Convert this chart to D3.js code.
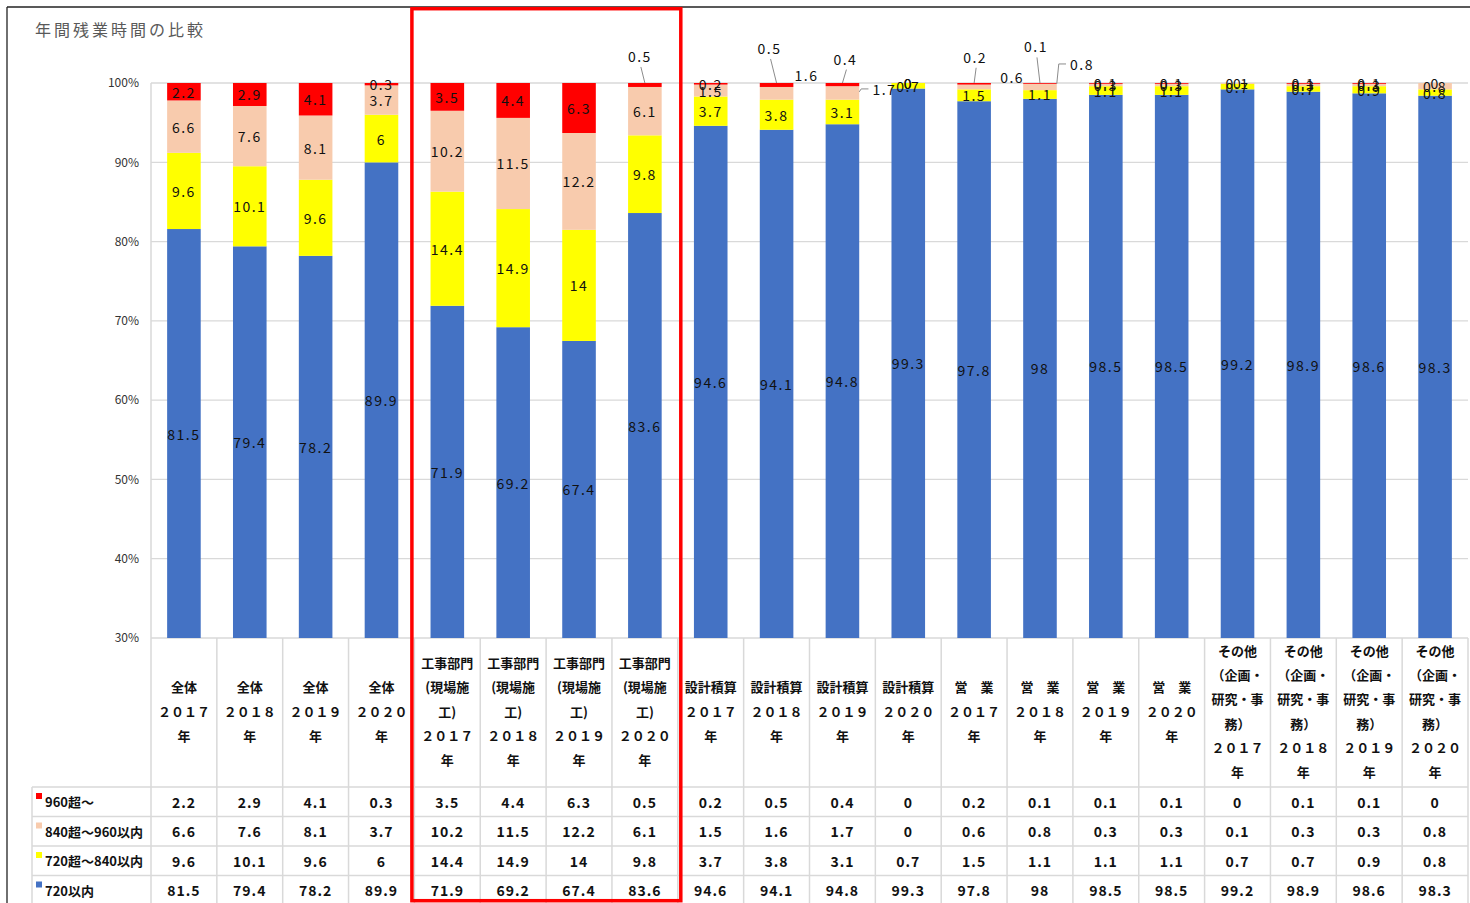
<!DOCTYPE html>
<html>
<head>
<meta charset="utf-8">
<script src="https://cdn.jsdelivr.net/npm/d3@7"></script>
<style>
body { margin: 0; background: #fff; }
text { font-family: "Noto Sans CJK JP", "Noto Sans", sans-serif; }
</style>
</head>
<body>
<svg id="chart" width="1470" height="903"></svg>
<script>
// category labels (line breaks as in the sheet)
var categories = [
    "全体\n２０１７\n年", "全体\n２０１８\n年", "全体\n２０１９\n年", "全体\n２０２０\n年",
    "工事部門\n(現場施\n工)\n２０１７\n年", "工事部門\n(現場施\n工)\n２０１８\n年",
    "工事部門\n(現場施\n工)\n２０１９\n年", "工事部門\n(現場施\n工)\n２０２０\n年",
    "設計積算\n２０１７\n年", "設計積算\n２０１８\n年", "設計積算\n２０１９\n年", "設計積算\n２０２０\n年",
    "営　業\n２０１７\n年", "営　業\n２０１８\n年", "営　業\n２０１９\n年", "営　業\n２０２０\n年",
    "その他\n（企画・\n研究・事\n務）\n２０１７\n年", "その他\n（企画・\n研究・事\n務）\n２０１８\n年",
    "その他\n（企画・\n研究・事\n務）\n２０１９\n年", "その他\n（企画・\n研究・事\n務）\n２０２０\n年"
];

var seriesNames = ["960超～", "840超～960以内", "720超～840以内", "720以内"];

var over960   = [2.2, 2.9, 4.1, 0.3, 3.5, 4.4, 6.3, 0.5, 0.2, 0.5, 0.4, 0, 0.2, 0.1, 0.1, 0.1, 0, 0.1, 0.1, 0];
var over840   = [6.6, 7.6, 8.1, 3.7, 10.2, 11.5, 12.2, 6.1, 1.5, 1.6, 1.7, 0, 0.6, 0.8, 0.3, 0.3, 0.1, 0.3, 0.3, 0.8];
var over720   = [9.6, 10.1, 9.6, 6, 14.4, 14.9, 14, 9.8, 3.7, 3.8, 3.1, 0.7, 1.5, 1.1, 1.1, 1.1, 0.7, 0.7, 0.9, 0.8];
var within720 = [81.5, 79.4, 78.2, 89.9, 71.9, 69.2, 67.4, 83.6, 94.6, 94.1, 94.8, 99.3, 97.8, 98, 98.5, 98.5, 99.2, 98.9, 98.6, 98.3];

var yTicks = [0.3, 0.4, 0.5, 0.6, 0.7, 0.8, 0.9, 1.0];

var seriesColors = ["#ff0000", "#f8cbad", "#ffff00", "#4472c4"];

// labels that were dragged off the thin segments in the sheet (pixel offsets)
var movedLabels = [
    {series: 0, index: 7,  dx: -5,  dy: -29, leader: "line"},
    {series: 0, index: 9,  dx: -7,  dy: -37, leader: "line"},
    {series: 1, index: 9,  dx: 30,  dy: -18, leader: "none"},
    {series: 0, index: 10, dx: 3,   dy: -26, leader: "line"},
    {series: 1, index: 10, dx: 42,  dy: -4,  leader: "elbow"},
    {series: 0, index: 12, dx: 1,   dy: -27, leader: "line"},
    {series: 1, index: 12, dx: 38,  dy: -10, leader: "none"},
    {series: 0, index: 13, dx: -4,  dy: -37, leader: "line"},
    {series: 1, index: 13, dx: 42,  dy: -23, leader: "elbow"}
];

var seriesValues = [over960, over840, over720, within720];

var svg = d3.select("#chart");

var plotLeft = 151, plotRight = 1468, plotTop = 83, plotBottom = 638;
var rowTops = [787, 816.5, 846, 875.5];
var rowH = 29.5;

var x = d3.scaleBand()
    .domain(d3.range(categories.length))
    .range([plotLeft, plotRight]);

var barW = x.bandwidth() * 0.51;

var y = d3.scaleLinear()
    .domain([0.3, 1])
    .range([plotBottom, plotTop]);

var rows = categories.map(function(c, i) {
    return {i: i, s0: over960[i], s1: over840[i], s2: over720[i], s3: within720[i]};
});

// bottom to top: 720以内, 720超, 840超, 960超
var layers = d3.stack()
    .keys(["s3", "s2", "s1", "s0"])
    .offset(d3.stackOffsetExpand)(rows);

// outer frame
svg.append("line").attr("x1", 7).attr("y1", 7).attr("x2", 1470).attr("y2", 7)
    .attr("stroke", "#222").attr("stroke-width", 1.3);
svg.append("line").attr("x1", 7).attr("y1", 7).attr("x2", 7).attr("y2", 903)
    .attr("stroke", "#222").attr("stroke-width", 1.3);

// title
svg.append("text")
    .attr("x", 35)
    .attr("y", 36)
    .attr("font-size", 16)
    .attr("letter-spacing", 3)
    .attr("fill", "#595959")
    .text("年間残業時間の比較");

// gridlines
svg.append("g").selectAll("line")
    .data(yTicks)
    .enter()
    .append("line")
    .attr("x1", plotLeft)
    .attr("x2", plotRight)
    .attr("y1", d => y(d))
    .attr("y2", d => y(d))
    .attr("stroke", "#d9d9d9")
    .attr("stroke-width", 1.3);

// y axis labels
var leftAxis = d3.axisLeft(y)
    .tickValues(yTicks)
    .tickFormat(d3.format(".0%"))
    .tickSize(0)
    .tickPadding(12);

var yAxis = svg.append("g")
    .attr("transform", `translate(${plotLeft}, 0)`)
    .call(leftAxis);
yAxis.select(".domain").remove();
yAxis.selectAll("text")
    .attr("font-size", 12)
    .attr("fill", "#333")
    .style("font-family", "\"Noto Sans CJK JP\", sans-serif");

// table grid
var grid = svg.append("g")
    .attr("stroke", "#d9d9d9")
    .attr("stroke-width", 1.5);

grid.append("line").attr("x1", plotLeft).attr("x2", plotLeft).attr("y1", plotTop).attr("y2", 903);
grid.append("line").attr("x1", 32).attr("x2", 32).attr("y1", rowTops[0]).attr("y2", 903);

grid.selectAll(".vcol")
    .data(d3.range(1, categories.length + 1))
    .enter()
    .append("line")
    .attr("class", "vcol")
    .attr("x1", d => x(d - 1) + x.bandwidth())
    .attr("x2", d => x(d - 1) + x.bandwidth())
    .attr("y1", plotBottom)
    .attr("y2", 903);

grid.selectAll(".hrow")
    .data(rowTops)
    .enter()
    .append("line")
    .attr("class", "hrow")
    .attr("x1", 32)
    .attr("x2", plotRight)
    .attr("y1", d => d)
    .attr("y2", d => d);

// bars
var layerGroups = svg.append("g").selectAll("g")
    .data(layers)
    .enter()
    .append("g")
    .attr("fill", d => seriesColors[+d.key[1]]);

layerGroups.selectAll("rect")
    .data(d => d)
    .enter()
    .append("rect")
    .attr("x", d => x(d.data.i) + (x.bandwidth() - barW) / 2)
    .attr("y", d => y(d[1]))
    .attr("width", barW)
    .attr("height", d => Math.max(0, y(Math.max(d[0], 0.3)) - y(d[1])));

// data labels
var labelGroup = svg.append("g");
var leaderGroup = svg.append("g")
    .attr("stroke", "#8c8c8c")
    .attr("fill", "none")
    .attr("stroke-width", 1);

layers.forEach(function(layer) {
    var s = +layer.key[1];
    layer.forEach(function(d) {
        var i = d.data.i;
        var cx = x(i) + x.bandwidth() / 2;
        var segTop = y(d[1]);
        var segBottom = y(Math.max(d[0], 0.3));
        var cy = (segTop + segBottom) / 2;
        var moved = movedLabels.find(m => m.series === s && m.index === i);
        var lx = cx, ly = cy;
        if (moved) {
            lx = cx + moved.dx;
            ly = cy + moved.dy;
        }
        var label = labelGroup.append("text")
            .attr("x", lx)
            .attr("y", ly)
            .attr("text-anchor", "middle")
            .attr("dominant-baseline", "central")
            .attr("font-size", 14)
            .attr("letter-spacing", 1.5)
            .attr("fill", "#111")
            .text(String(seriesValues[s][i]));

        if (moved && moved.leader === "line") {
            leaderGroup.append("line")
                .attr("x1", lx + 1)
                .attr("y1", ly + 11)
                .attr("x2", cx)
                .attr("y2", segTop);
        }
        if (moved && moved.leader === "elbow") {
            var bx = cx + barW / 2;
            var startY = Math.min(Math.max(ly + 3, segTop), segBottom);
            var textW = label.node().getComputedTextLength();
            leaderGroup.append("polyline")
                .attr("points", [
                    [bx, startY],
                    [bx + 2, ly],
                    [lx - textW / 2 - 4, ly]
                ].map(p => p.join(",")).join(" "));
        }
    });
});

// category header cells
categories.forEach(function(c, i) {
    var lines = c.split("\n");
    var cx = x(i) + x.bandwidth() / 2;
    svg.append("text")
        .attr("text-anchor", "middle")
        .attr("font-size", 13)
        .attr("font-weight", "bold")
        .attr("fill", "#111")
        .selectAll("tspan")
        .data(lines)
        .enter()
        .append("tspan")
        .attr("x", cx)
        .attr("y", (d, k) => 711 + (k - (lines.length - 1) / 2) * 24.3)
        .attr("dominant-baseline", "central")
        .text(d => d);
});

// table rows: legend key + values
seriesNames.forEach(function(name, s) {
    var rowY = rowTops[s] + rowH / 2;
    svg.append("rect")
        .attr("x", 36)
        .attr("y", rowTops[s] + 6)
        .attr("width", 6)
        .attr("height", 6)
        .attr("fill", seriesColors[s]);
    svg.append("text")
        .attr("x", 45)
        .attr("y", rowY)
        .attr("dominant-baseline", "central")
        .attr("font-size", 13)
        .attr("font-weight", "bold")
        .attr("fill", "#111")
        .text(name);
    svg.append("g").selectAll("text")
        .data(seriesValues[s])
        .enter()
        .append("text")
        .attr("x", (d, i) => x(i) + x.bandwidth() / 2)
        .attr("y", rowY)
        .attr("text-anchor", "middle")
        .attr("dominant-baseline", "central")
        .attr("font-size", 14)
        .attr("font-weight", "bold")
        .attr("letter-spacing", 1)
        .attr("fill", "#111")
        .text(d => String(d));
});

// red highlight box around 工事部門
svg.append("rect")
    .attr("x", x(4) - 2.5)
    .attr("y", 8.7)
    .attr("width", x(7) + x.bandwidth() - x(4) + 5.5)
    .attr("height", 892)
    .attr("fill", "none")
    .attr("stroke", "#ff0000")
    .attr("stroke-width", 3.5);
</script>
</body>
</html>
